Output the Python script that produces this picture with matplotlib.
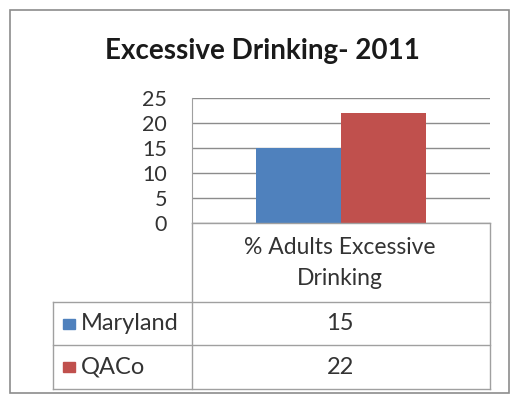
import matplotlib
matplotlib.use("Agg")
import matplotlib.pyplot as plt
from matplotlib.patches import Rectangle
from matplotlib.lines import Line2D

plt.rcParams['font.family'] = ['Lato', 'DejaVu Sans']

title = "Excessive Drinking- 2011"
category = "% Adults Excessive\nDrinking"
series = ["Maryland", "QACo"]
values = [15, 22]
colors = ["#4F81BD", "#C0504D"]
yticks = [0, 5, 10, 15, 20, 25]

W, H = 512, 394
fig = plt.figure(figsize=(W / 100, H / 100), dpi=100)

def fx(px):
    return px / W

def fy(py):
    return 1 - py / H

# outer border
fig.add_artist(Rectangle((fx(10), fy(393)), fx(499), fy(10) - fy(393),
                         transform=fig.transFigure, fill=False,
                         edgecolor="#8c8c8c", linewidth=1.2))

fig.text(fx(262), fy(51), title, ha="center", va="center",
         fontsize=20, fontweight="bold", color="#1a1a1a")

L, R, T, B = 192, 490, 98, 223
ax = fig.add_axes([fx(L), fy(B), fx(R) - fx(L), fy(T) - fy(B)])
width = 0.285
n = len(series)
for i, (s, v, c) in enumerate(zip(series, values, colors)):
    off = (i - (n - 1) / 2) * width
    ax.bar(off, v, width=width, color=c, zorder=3)
ax.set_xlim(-0.5, 0.5)
ax.set_ylim(0, 25)
ax.set_yticks(yticks)
ax.set_yticklabels([str(t) for t in yticks], fontsize=15.5, color="#333333")
ax.tick_params(axis="y", length=0, pad=18)
ax.set_xticks([])
ax.grid(axis="y", color="#8c8c8c", linewidth=1.0, zorder=0)
for sp in ["top", "right", "bottom"]:
    ax.spines[sp].set_visible(False)
ax.spines["left"].set_color("#a0a0a0")
ax.set_axisbelow(True)

# data table
lc = "#a0a0a0"
row_tops = [223, 302, 345, 389]
def hline(y, x0, x1):
    fig.add_artist(Line2D([fx(x0), fx(x1)], [fy(y), fy(y)],
                          transform=fig.transFigure, color=lc, linewidth=1.0))
def vline(x, y0, y1):
    fig.add_artist(Line2D([fx(x), fx(x)], [fy(y0), fy(y1)],
                          transform=fig.transFigure, color=lc, linewidth=1.0))

hline(223, L, R)
hline(302, 53, R)
hline(345, 53, R)
hline(389, 53, R)
vline(L, 223, 389)
vline(R, 223, 389)
vline(53, 302, 389)

fig.text(fx(340), fy(263), category, ha="center", va="center",
         fontsize=16.5, color="#333333", linespacing=1.55)

for i, (s, v, c) in enumerate(zip(series, values, colors)):
    yc = (row_tops[i + 1] + row_tops[i + 2]) / 2
    fig.add_artist(Rectangle((fx(63), fy(yc + 5)), fx(12), fy(yc - 5) - fy(yc + 5),
                             transform=fig.transFigure, color=c))
    fig.text(fx(81), fy(yc), s, ha="left", va="center", fontsize=17, color="#333333")
    fig.text(fx(340), fy(yc), str(v), ha="center", va="center", fontsize=17, color="#333333")

fig.savefig("out.png", dpi=100)
